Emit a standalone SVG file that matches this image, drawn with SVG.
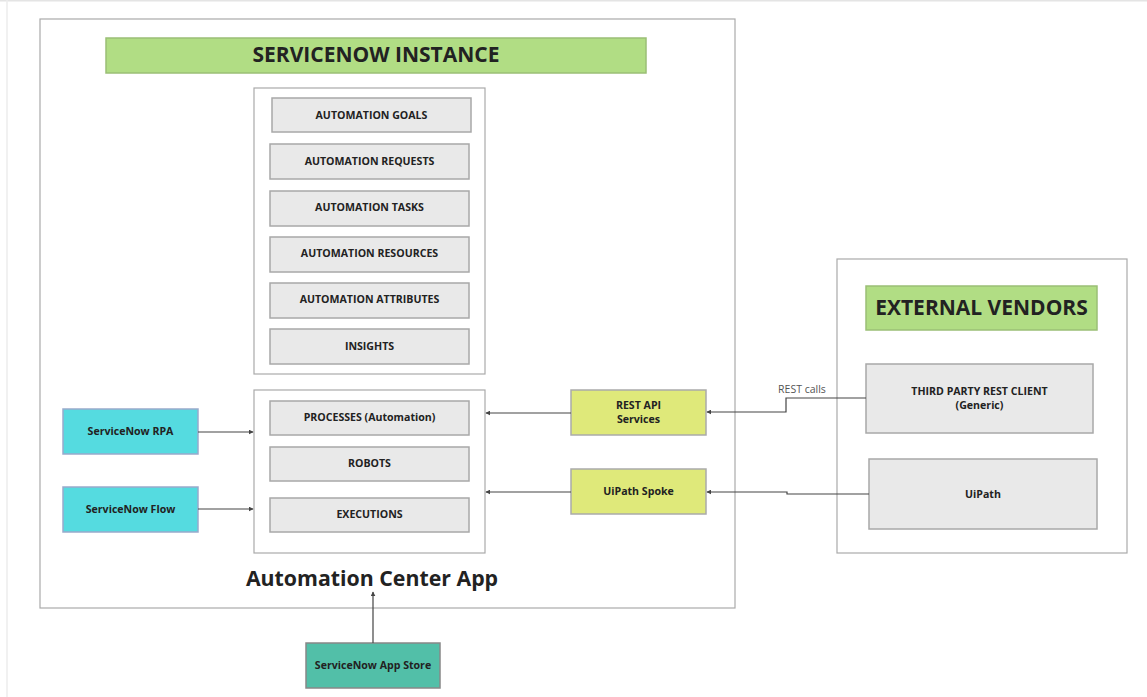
<svg xmlns="http://www.w3.org/2000/svg" width="1147" height="697" viewBox="0 0 1147 697">
<style>
text{font-family:"Open Sans","Noto Sans","Liberation Sans",sans-serif;font-weight:bold;fill:#222;text-anchor:middle;dominant-baseline:central}
.frame{fill:#fff;stroke:#aaa;stroke-width:1.2}
.item{fill:#e9e9e9;stroke:#a8a8a8;stroke-width:1.5}
.hdr{fill:#b1dd84;stroke:#9bbf76;stroke-width:1.5}
.cyan{fill:#55dbe0;stroke:#9ac;stroke-width:1.5}
.lime{fill:#dfe97a;stroke:#aaa;stroke-width:1.5}
.teal{fill:#52bfa8;stroke:#888;stroke-width:1.5}
.it{font-size:10.6px}
.conn{fill:none;stroke:#444;stroke-width:1.2;marker-end:url(#ah)}
</style>
<defs>
<marker id="ah" viewBox="0 0 8 8" refX="7" refY="4" markerWidth="5" markerHeight="5" orient="auto" markerUnits="userSpaceOnUse">
<path d="M0,0L8,4L0,8z" fill="#444"/>
</marker>
</defs>
<rect width="1147" height="697" fill="#fff"/>
<line x1="0" y1="0.7" x2="1147" y2="0.7" stroke="#e4e4e4" stroke-width="1.5"/>
<line x1="7" y1="0" x2="7" y2="697" stroke="#ececec" stroke-width="1.5"/>

<g id="servicenow-instance">
<rect class="frame" x="40" y="19" width="695" height="589"/>
</g>
<g id="instance-header">
<rect class="hdr" x="106" y="38" width="540" height="35"/>
<text x="376" y="54" style="font-size:21px">SERVICENOW INSTANCE</text>
</g>
<g id="app-label">
<text x="372" y="577" style="font-size:21.3px">Automation Center App</text>
</g>
<g id="box-top">
<rect class="frame" x="254" y="88" width="231" height="286"/>
</g>
<g id="automation-goals"><rect class="item" x="272" y="98" width="199" height="34"/><text class="it" x="371.5" y="115">AUTOMATION GOALS</text></g>
<g id="automation-requests"><rect class="item" x="270" y="144" width="199" height="35"/><text class="it" x="369.5" y="161">AUTOMATION REQUESTS</text></g>
<g id="automation-tasks"><rect class="item" x="270" y="191" width="199" height="35"/><text class="it" x="369.5" y="207">AUTOMATION TASKS</text></g>
<g id="automation-resources"><rect class="item" x="270" y="237" width="199" height="35"/><text class="it" x="369.5" y="253">AUTOMATION RESOURCES</text></g>
<g id="automation-attributes"><rect class="item" x="270" y="283" width="199" height="35"/><text class="it" x="369.5" y="299">AUTOMATION ATTRIBUTES</text></g>
<g id="insights"><rect class="item" x="270" y="329" width="199" height="35"/><text class="it" x="369.5" y="346">INSIGHTS</text></g>

<g id="box-bottom">
<rect class="frame" x="254" y="390" width="231" height="163"/>
</g>
<g id="processes"><rect class="item" x="270" y="401" width="199" height="34"/><text class="it" x="369.5" y="417">PROCESSES (Automation)</text></g>
<g id="robots"><rect class="item" x="270" y="447" width="199" height="34"/><text class="it" x="369.5" y="463">ROBOTS</text></g>
<g id="executions"><rect class="item" x="270" y="498" width="199" height="34"/><text class="it" x="369.5" y="514">EXECUTIONS</text></g>

<g id="servicenow-rpa"><rect class="cyan" x="63" y="409" width="135" height="45"/><text class="it" x="130.5" y="431">ServiceNow RPA</text></g>
<g id="servicenow-flow"><rect class="cyan" x="63" y="487" width="135" height="45"/><text class="it" x="130.5" y="509">ServiceNow Flow</text></g>

<g id="rest-api-services"><rect class="lime" x="571" y="390" width="135" height="45"/><text class="it" x="638.5" y="405">REST API</text><text class="it" x="638.5" y="419">Services</text></g>
<g id="uipath-spoke"><rect class="lime" x="571" y="469" width="135" height="45"/><text class="it" x="638.5" y="491">UiPath Spoke</text></g>

<g id="external-vendors">
<rect class="frame" x="837" y="259" width="290" height="294"/>
</g>
<g id="external-header">
<rect class="hdr" x="866" y="286" width="231" height="44"/>
<text x="981.5" y="307" style="font-size:21px">EXTERNAL VENDORS</text>
</g>
<g id="third-party-rest-client"><rect class="item" x="866" y="364" width="227" height="69"/><text class="it" x="979.5" y="391">THIRD PARTY REST CLIENT</text><text class="it" x="979.5" y="405">(Generic)</text></g>
<g id="uipath"><rect class="item" x="869" y="459" width="228" height="70"/><text class="it" x="983" y="494">UiPath</text></g>

<g id="servicenow-app-store"><rect class="teal" x="306" y="643" width="134" height="45"/><text class="it" x="373" y="665">ServiceNow App Store</text></g>

<g id="connectors">
<path class="conn" d="M198,432H253"/>
<path class="conn" d="M198,509H253"/>
<path class="conn" d="M571,413H486"/>
<path class="conn" d="M571,492H486"/>
<path class="conn" d="M866,398H786V412H707"/>
<path class="conn" d="M869,494H787V492H707"/>
<path class="conn" d="M373,643V592"/>
<text x="802" y="389" style="font-size:10.5px;font-weight:normal;fill:#555">REST calls</text>
</g>
</svg>
